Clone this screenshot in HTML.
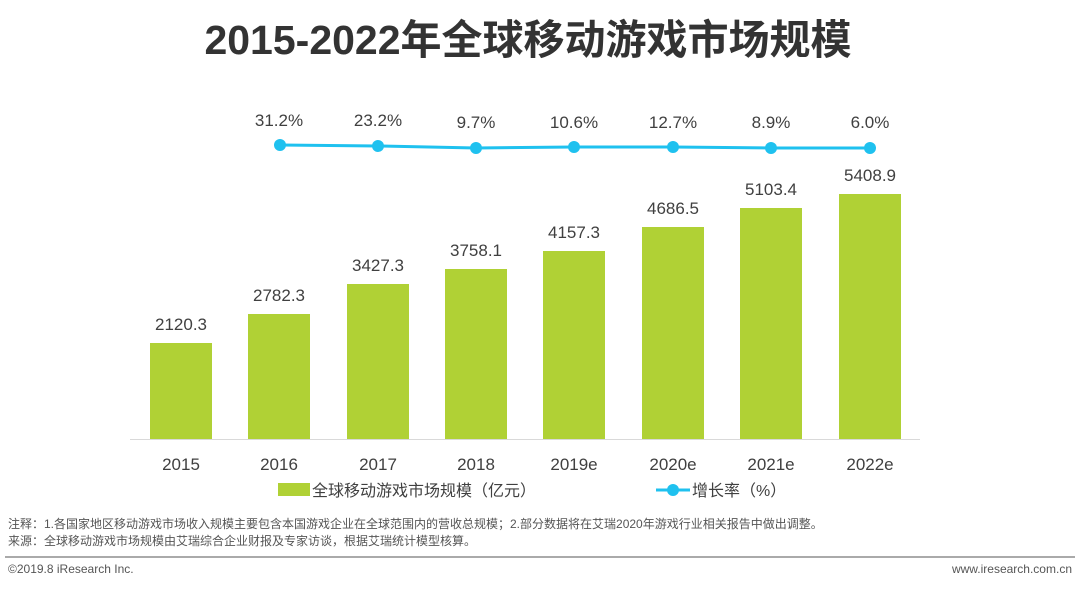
<!DOCTYPE html>
<html><head><meta charset="utf-8"><style>
body{margin:0;width:1080px;height:584px;background:#fff;overflow:hidden;font-family:"Liberation Sans","Noto Sans CJK SC",sans-serif;}
</style></head><body>
<svg width="1080" height="584" xmlns="http://www.w3.org/2000/svg" font-family="Liberation Sans, Noto Sans CJK SC, sans-serif">
<text x="528" y="54" text-anchor="middle" font-size="41" font-weight="bold" fill="#333">2015-2022年全球移动游戏市场规模</text>
<g fill="#b0d135">
<rect x="150" y="343" width="62" height="96"/>
<rect x="248" y="314" width="62" height="125"/>
<rect x="347" y="284" width="62" height="155"/>
<rect x="445" y="269" width="62" height="170"/>
<rect x="543" y="251" width="62" height="188"/>
<rect x="642" y="227" width="62" height="212"/>
<rect x="740" y="208" width="62" height="231"/>
<rect x="839" y="194" width="62" height="245"/>
</g>
<line x1="130" y1="439.5" x2="920" y2="439.5" stroke="#d9d9d9" stroke-width="1"/>
<g font-size="17" fill="#404040" text-anchor="middle">
<text x="181" y="330">2120.3</text><text x="279" y="301">2782.3</text><text x="378" y="271">3427.3</text><text x="476" y="256">3758.1</text>
<text x="574" y="238">4157.3</text><text x="673" y="214">4686.5</text><text x="771" y="195">5103.4</text><text x="870" y="181">5408.9</text>
<text x="181" y="470">2015</text><text x="279" y="470">2016</text><text x="378" y="470">2017</text><text x="476" y="470">2018</text>
<text x="574" y="470">2019e</text><text x="673" y="470">2020e</text><text x="771" y="470">2021e</text><text x="870" y="470">2022e</text>
<text x="279" y="126">31.2%</text><text x="378" y="126">23.2%</text><text x="476" y="128">9.7%</text><text x="574" y="128">10.6%</text>
<text x="673" y="128">12.7%</text><text x="771" y="128">8.9%</text><text x="870" y="128">6.0%</text>
</g>
<polyline points="280,145 378,146 476,148 574,147 673,147 771,148 870,148" fill="none" stroke="#1fc1ef" stroke-width="3"/>
<g fill="#1fc1ef">
<circle cx="280" cy="145" r="6"/><circle cx="378" cy="146" r="6"/><circle cx="476" cy="148" r="6"/><circle cx="574" cy="147" r="6"/>
<circle cx="673" cy="147" r="6"/><circle cx="771" cy="148" r="6"/><circle cx="870" cy="148" r="6"/>
</g>
<rect x="278" y="483" width="32" height="13" fill="#b0d135"/>
<text x="312" y="496" font-size="16" fill="#404040">全球移动游戏市场规模（亿元）</text>
<line x1="656" y1="490" x2="690" y2="490" stroke="#1fc1ef" stroke-width="3"/>
<circle cx="673" cy="490" r="6" fill="#1fc1ef"/>
<text x="692" y="496" font-size="16" fill="#404040">增长率（%）</text>
<text x="8" y="528" font-size="12" fill="#555">注释：1.各国家地区移动游戏市场收入规模主要包含本国游戏企业在全球范围内的营收总规模；2.部分数据将在艾瑞2020年游戏行业相关报告中做出调整。</text>
<text x="8" y="545" font-size="12" fill="#555">来源：全球移动游戏市场规模由艾瑞综合企业财报及专家访谈，根据艾瑞统计模型核算。</text>
<line x1="5" y1="557" x2="1075" y2="557" stroke="#aaa" stroke-width="2"/>
<text x="8" y="573" font-size="12" fill="#555">©2019.8 iResearch Inc.</text>
<text x="1072" y="573" font-size="12" fill="#555" text-anchor="end">www.iresearch.com.cn</text>
</svg>
</body></html>
